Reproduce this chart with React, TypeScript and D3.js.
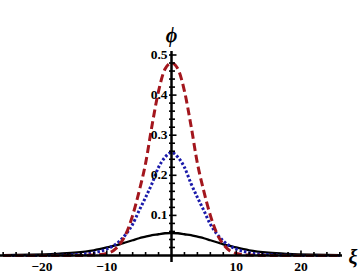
import React from 'react';
import * as d3 from 'd3';

// sample positions along xi and the three profiles
const xi = [-26, -22, -18, -15, -12, -10, -9, -8, -7, -6, -5, -4, -3, -2, -1, 0, 1, 2, 3, 4, 5, 6, 7, 8, 9, 10, 12, 15, 18, 22, 26];
const phiRed = [0, 0, 0, 0, 0.001, 0.005, 0.012, 0.028, 0.055, 0.1, 0.16, 0.23, 0.325, 0.41, 0.465, 0.48, 0.465, 0.41, 0.325, 0.23, 0.16, 0.1, 0.055, 0.028, 0.012, 0.005, 0.001, 0, 0, 0, 0];
const phiBlue = [0, 0, 0.0005, 0.002, 0.007, 0.016, 0.024, 0.036, 0.054, 0.078, 0.112, 0.145, 0.18, 0.22, 0.245, 0.257, 0.245, 0.22, 0.18, 0.145, 0.112, 0.078, 0.054, 0.036, 0.024, 0.016, 0.007, 0.002, 0.0005, 0, 0];
const phiBlack = [0.001, 0.002, 0.004, 0.007, 0.013, 0.02, 0.024, 0.028, 0.033, 0.038, 0.043, 0.047, 0.051, 0.053, 0.0555, 0.056, 0.0555, 0.053, 0.051, 0.047, 0.043, 0.038, 0.033, 0.028, 0.024, 0.02, 0.013, 0.007, 0.004, 0.002, 0.001];

const xTicks = [-20, -10, 10, 20];
const xMinor = d3.range(-26, 27, 2);
const yTicks = [0.1, 0.2, 0.3, 0.4, 0.5];
const yMinor = d3.range(0.02, 0.51, 0.02);

const W = 360;
const H = 277;
const font = '"Liberation Serif", "Times New Roman", serif';

export default function App() {
  const x = d3.scaleLinear().domain([-20, 20]).range([42, 301]);
  const y = d3.scaleLinear().domain([0, 0.5]).range([255.5, 55]);

  const line = (vals: number[]) =>
    d3.line<number>()
      .x((_, i) => x(xi[i]))
      .y((d) => y(d))
      .curve(d3.curveMonotoneX)(vals) || '';

  const x0 = x(0);
  const y0 = y(0);

  return (
    <svg width={W} height={H} style={{ position: 'absolute', left: 0, top: 0, background: '#fff' }}>
      {/* curves */}
      <path d={line(phiBlack)} fill="none" stroke="#000" strokeWidth={2.3} />
      <path d={line(phiBlue)} fill="none" stroke="#1a1aaa" strokeWidth={3} strokeDasharray="2.5,2" />
      <path d={line(phiRed)} fill="none" stroke="#a3161d" strokeWidth={3} strokeDasharray="8,4" />

      {/* axes */}
      <line x1={0} x2={342} y1={y0} y2={y0} stroke="#000" strokeWidth={2.5} />
      <line x1={x0} x2={x0} y1={51} y2={262} stroke="#000" strokeWidth={2.5} />

      {xMinor.filter((t) => t !== 0).map((t) => (
        <line key={'xm' + t} x1={x(t)} x2={x(t)} y1={y0} y2={y0 - (t % 10 === 0 ? 5 : 3.5)} stroke="#000" strokeWidth={1.6} />
      ))}
      {yMinor.map((t) => (
        <line key={'ym' + t} x1={x0 - 2.5} x2={x0 + (Math.abs(t * 10 - Math.round(t * 10)) < 1e-6 ? 5 : 3.5)} y1={y(t)} y2={y(t)} stroke="#000" strokeWidth={1.6} />
      ))}

      {xTicks.map((t) => (
        <text key={'xt' + t} x={x(t)} y={271} textAnchor="middle" fontFamily={font} fontWeight="bold" fontSize={13.5}>
          {t < 0 ? '\u2212' + Math.abs(t) : t}
        </text>
      ))}
      {yTicks.map((t) => (
        <text key={'yt' + t} x={x0 - 4} y={y(t) + 4} textAnchor="end" fontFamily={font} fontWeight="bold" fontSize={13.5}>
          {t.toFixed(1)}
        </text>
      ))}

      <text x={x0} y={42} textAnchor="middle" fontFamily={font} fontWeight="bold" fontStyle="italic" fontSize={20}>{'\u03D5'}</text>
      <text x={353} y={264} textAnchor="middle" fontFamily={font} fontWeight="bold" fontStyle="italic" fontSize={20}>ξ</text>
    </svg>
  );
}
